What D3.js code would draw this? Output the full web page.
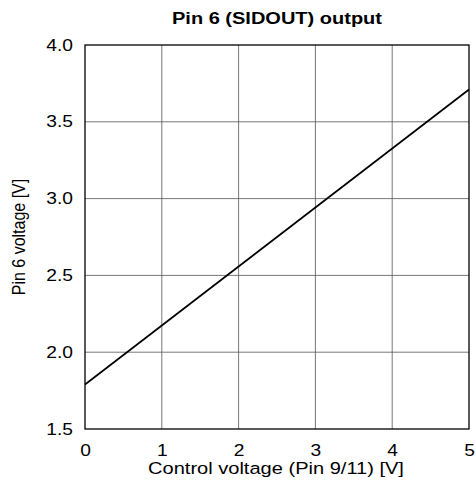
<!DOCTYPE html>
<html>
<head>
<meta charset="utf-8">
<script src="https://cdn.jsdelivr.net/npm/d3@7"></script>
<style>
  body { margin: 0; background: #fff; }
  svg { display: block; font-family: "Liberation Sans", Arial, sans-serif; }
</style>
</head>
<body>
<svg id="chart" width="476" height="486"></svg>
<script>
// Control voltage (V) vs. SIDOUT pin voltage (V)
const controlVoltage = [0, 5];
const pinVoltage = [1.79, 3.71];
const xTicks = [0, 1, 2, 3, 4, 5];
const yTicks = [1.5, 2.0, 2.5, 3.0, 3.5, 4.0];

const titleText = "Pin 6 (SIDOUT) output";
const xLabel = "Control voltage (Pin 9/11) [V]";
const yLabel = "Pin 6 voltage [V]";

const svg = d3.select("#chart");
const margin = { left: 85, right: 7, top: 45, bottom: 57 };
const W = 476, H = 486;
const fontFamily = "Liberation Sans, Arial, sans-serif";
const stretch = 1.2; // horizontally widened lettering

const x = d3.scaleLinear().domain([0, 5]).range([margin.left, W - margin.right]);
const y = d3.scaleLinear().domain([1.5, 4.0]).range([H - margin.bottom, margin.top]);

// grid
const grid = svg.append("g").attr("stroke", "#555").attr("stroke-width", 0.8);
grid.selectAll("line.vx").data(xTicks.slice(1, -1)).join("line")
  .attr("x1", d => x(d)).attr("x2", d => x(d))
  .attr("y1", y(1.5)).attr("y2", y(4.0));
grid.selectAll("line.hy").data(yTicks.slice(1, -1)).join("line")
  .attr("y1", d => y(d)).attr("y2", d => y(d))
  .attr("x1", x(0)).attr("x2", x(5));

// axes (labels only, frame drawn separately)
const xAxis = d3.axisBottom(x).tickValues(xTicks).tickSize(0).tickPadding(16)
  .tickFormat(d3.format("d"));
const gx = svg.append("g").attr("transform", `translate(0,${y(1.5)})`).call(xAxis);
gx.select(".domain").remove();
gx.selectAll("text").attr("font-size", 16).attr("fill", "#000")
  .attr("font-family", fontFamily)
  .attr("transform", `scale(${stretch},1)`);

const yPad = 12;
const yAxis = d3.axisLeft(y).tickValues(yTicks).tickSize(0).tickPadding(yPad)
  .tickFormat(d3.format(".1f"));
const gy = svg.append("g").attr("transform", `translate(${x(0)},0)`).call(yAxis);
gy.select(".domain").remove();
gy.selectAll("text").attr("font-size", 16).attr("fill", "#000")
  .attr("font-family", fontFamily)
  .attr("x", 0)
  .attr("transform", `translate(${-yPad},0) scale(${stretch},1)`);

// data line
const line = d3.line().x((d, i) => x(controlVoltage[i])).y(d => y(d));
svg.append("path").datum(pinVoltage)
  .attr("d", line).attr("fill", "none")
  .attr("stroke", "#000").attr("stroke-width", 1.7);

// frame
svg.append("rect")
  .attr("x", x(0)).attr("y", y(4.0))
  .attr("width", x(5) - x(0)).attr("height", y(1.5) - y(4.0))
  .attr("fill", "none").attr("stroke", "#000").attr("stroke-width", 1.3);

// title and axis labels
const cx = (x(0) + x(5)) / 2;
svg.append("text")
  .attr("transform", `translate(${cx},24) scale(1.25,1)`)
  .attr("text-anchor", "middle").attr("font-size", 16).attr("font-weight", "bold")
  .text(titleText);

svg.append("text")
  .attr("transform", `translate(${cx - 1},474) scale(1.18,1)`)
  .attr("text-anchor", "middle").attr("font-size", 17)
  .text(xLabel);

svg.append("text")
  .attr("transform", `translate(25,${(y(1.5) + y(4.0)) / 2}) scale(${stretch},1) rotate(-90)`)
  .attr("text-anchor", "middle").attr("font-size", 16)
  .text(yLabel);
</script>
</body>
</html>
